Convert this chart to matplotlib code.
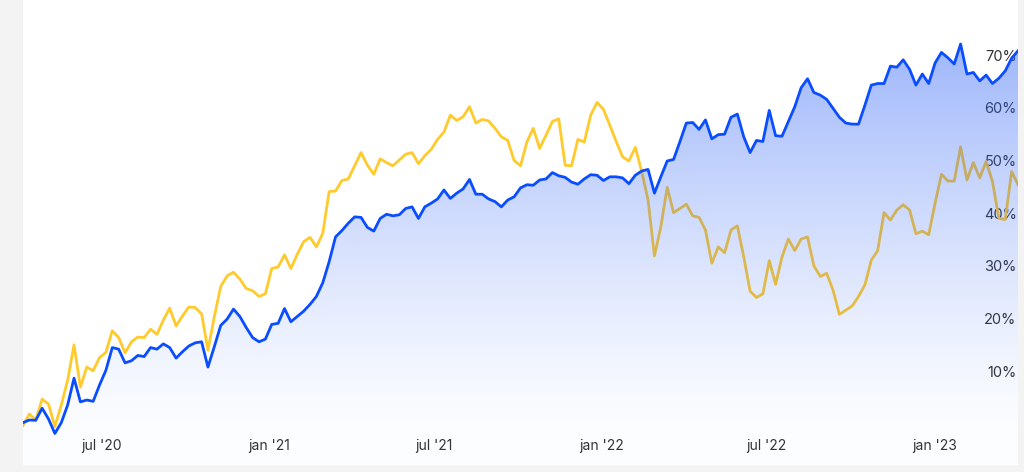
import numpy as np
import pandas as pd
import matplotlib
matplotlib.use("Agg")
import matplotlib.pyplot as plt
import matplotlib.dates as mdates

# ---------------- data ----------------
start_date = "2020-04-06"
n_weeks = 157

blue_values = [
    0.25, 0.76, 0.7, 3.0, 0.95, -1.8, 0.25, 3.6, 8.7, 4.2,
    4.55, 4.3, 7.4, 10.2, 14.5, 14.2, 11.6, 12.0, 13.0, 12.8,
    14.5, 14.2, 15.2, 14.5, 12.5, 13.7, 14.8, 15.4, 15.6, 10.8,
    14.7, 18.7, 19.9, 21.8, 20.4, 18.3, 16.4, 15.6, 16.1, 18.9,
    19.1, 21.9, 19.4, 20.4, 21.4, 22.7, 24.2, 26.8, 30.8, 35.5,
    36.7, 38.1, 39.3, 39.2, 37.3, 36.6, 39.0, 39.8, 39.5, 39.7,
    40.9, 41.2, 39.0, 41.2, 41.9, 42.7, 44.4, 42.8, 43.8, 44.6,
    46.4, 43.6, 43.6, 42.7, 42.2, 41.2, 42.5, 43.1, 44.8, 45.4,
    45.3, 46.3, 46.5, 47.7, 47.1, 46.8, 45.9, 45.5, 46.5, 47.3,
    47.2, 46.2, 46.9, 46.9, 46.7, 45.6, 47.2, 48.0, 48.3, 43.8,
    46.9, 49.9, 50.2, 53.6, 57.1, 57.2, 55.9, 57.7, 54.1, 54.9,
    55.0, 58.2, 58.8, 54.5, 51.5, 53.8, 53.6, 59.5, 54.7, 54.6,
    57.4, 60.2, 63.8, 65.5, 62.9, 62.4, 61.6, 59.9, 58.2, 57.1,
    56.9, 56.9, 60.5, 64.3, 64.6, 64.6, 67.9, 67.7, 69.1, 67.3,
    64.3, 66.4, 64.6, 68.5, 70.5, 69.5, 68.3, 72.1, 66.4, 66.7,
    65.1, 66.2, 64.6, 65.6, 67.0, 69.4, 70.8,
]

yellow_values = [
    -0.3, 1.9, 0.76, 4.7, 3.8, -0.5, 3.6, 8.3, 15.0, 7.0,
    10.8, 10.1, 12.6, 13.6, 17.7, 16.4, 13.5, 15.6, 16.5, 16.4,
    18.0, 17.0, 19.7, 22.0, 18.6, 20.5, 22.2, 22.1, 20.9, 14.0,
    20.4, 26.1, 28.1, 28.8, 27.5, 25.7, 25.3, 24.2, 24.7, 29.5,
    29.8, 32.1, 29.5, 32.2, 34.6, 35.4, 33.6, 36.2, 44.1, 44.2,
    46.2, 46.5, 49.0, 51.5, 49.1, 47.4, 50.3, 49.6, 49.0, 50.1,
    51.2, 51.5, 49.4, 50.9, 52.1, 54.0, 55.4, 58.6, 57.6, 58.3,
    60.2, 57.1, 57.8, 57.5, 56.1, 54.5, 53.8, 50.0, 49.0, 53.5,
    56.1, 52.3, 54.8, 57.4, 57.9, 49.1, 49.0, 54.0, 53.5, 58.6,
    61.0, 59.7, 56.7, 53.6, 50.7, 49.9, 52.5, 47.9, 42.5, 31.9,
    37.4, 44.9, 40.1, 40.9, 41.7, 39.5, 39.2, 36.8, 30.5, 33.6,
    32.5, 36.8, 37.6, 31.7, 25.2, 24.0, 24.7, 31.0, 26.5, 31.7,
    35.1, 32.9, 35.1, 35.5, 30.0, 28.0, 28.6, 25.4, 20.8, 21.6,
    22.4, 24.2, 26.4, 31.1, 32.9, 40.1, 38.7, 40.6, 41.6, 40.6,
    36.1, 36.6, 35.9, 41.9, 47.4, 46.1, 46.1, 52.6, 46.3, 49.6,
    46.7, 49.8, 46.0, 39.0, 38.8, 47.9, 45.4,
]

x_tick_dates = ["2020-07-01", "2021-01-01", "2021-07-01", "2022-01-01", "2022-07-01", "2023-01-01"]
x_tick_labels = ["jul '20", "jan '21", "jul '21", "jan '22", "jul '22", "jan '23"]
y_ticks = [10, 20, 30, 40, 50, 60, 70]
y_tick_labels = ["10%", "20%", "30%", "40%", "50%", "60%", "70%"]

# ---------------- figure ----------------
W, H = 1024, 472
fig = plt.figure(figsize=(W / 100, H / 100), dpi=100, facecolor="#f3f3f4")
ax = fig.add_axes([23 / W, (H - 465) / H, (1018 - 23) / W, 465 / H])
ax.set_facecolor("white")

dates = pd.date_range(start_date, periods=n_weeks, freq="7D")
xn = mdates.date2num(dates)
blue = np.array(blue_values)
yellow = np.array(yellow_values)

ymin, ymax = -7.78, 80.45
BLUE = "#0a4dff"
YELLOW = "#ffca2c"

# yellow line (below the fill so the fill tints it)
ax.plot(xn, yellow, color=YELLOW, lw=2.0, zorder=2, solid_joinstyle="round")

# gradient fill below blue line
poly = ax.fill_between(xn, blue, ymin, color="none", lw=0, zorder=1)
nrows = 256
vals = np.linspace(ymin, ymax, nrows)
t = np.clip((vals - (-2)) / (72 - (-2)), 0, 1)
alpha = 0.44 * t ** 1.25 + 0.012
grad = np.zeros((nrows, 2, 4))
grad[..., 0] = 0.17
grad[..., 1] = 0.38
grad[..., 2] = 0.97
grad[..., 3] = alpha[:, None]
im = ax.imshow(grad, extent=[xn[0], xn[-1], ymin, ymax], origin="lower",
               aspect="auto", zorder=3, interpolation="bilinear")
path = poly.get_paths()[0]
im.set_clip_path(path, transform=ax.transData)

ax.plot(xn, blue, color=BLUE, lw=2.0, zorder=4, solid_joinstyle="round")

ax.set_xlim(xn[0], xn[-1])
ax.set_ylim(ymin, ymax)

for s in ax.spines.values():
    s.set_visible(False)

ax.set_xticks(mdates.date2num(pd.to_datetime(x_tick_dates)))
ax.set_xticklabels(x_tick_labels, fontfamily="Inter", fontsize=10, color="#333333")
ax.tick_params(axis="x", length=0, pad=-19)

ax.yaxis.tick_right()
ax.set_yticks(y_ticks)
ax.set_yticklabels(y_tick_labels, fontfamily="Inter", fontsize=10.5, color="#333333")
ax.tick_params(axis="y", length=0, pad=-1)
for lab in ax.get_yticklabels():
    lab.set_horizontalalignment("right")
    lab.set_zorder(6)

fig.savefig("out.png", dpi=100, facecolor=fig.get_facecolor())
